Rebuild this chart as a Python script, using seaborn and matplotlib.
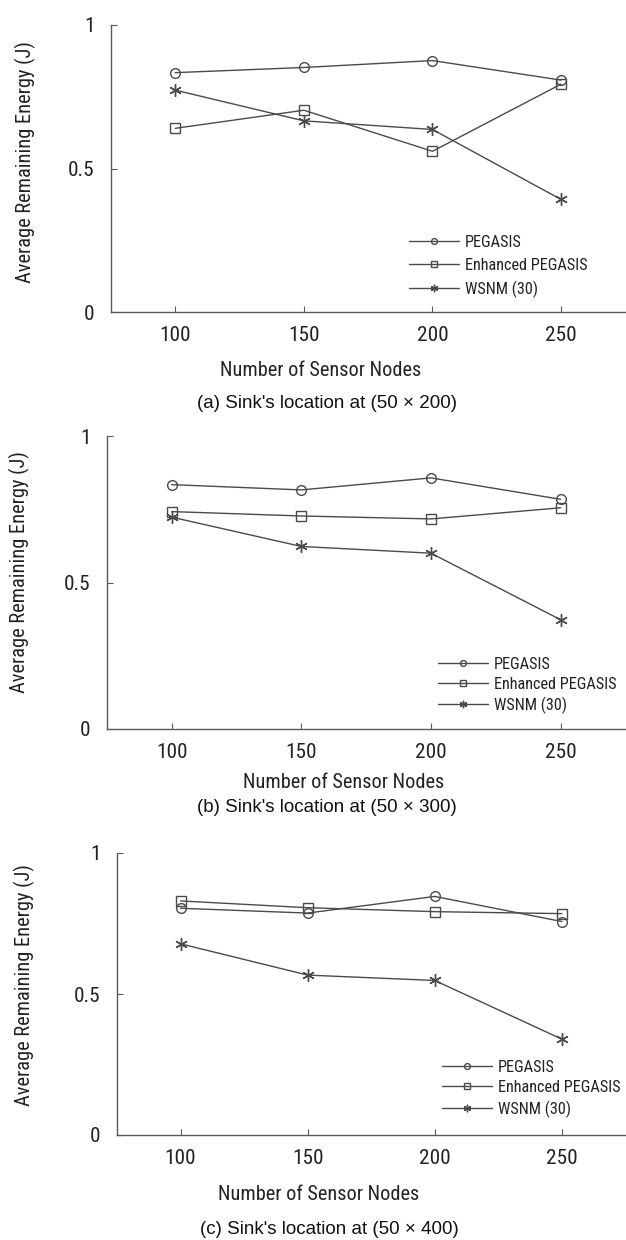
import os

import matplotlib
matplotlib.use("Agg")
import matplotlib.pyplot as plt
from matplotlib import font_manager
import pandas as pd
import seaborn as sns

# x values shared by all three panels
NODES = [100, 150, 200, 250]
SERIES = ["PEGASIS", "Enhanced PEGASIS", "WSNM (30)"]

# (a) sink at (50 x 200)
PEGASIS_A = [0.834, 0.852, 0.876, 0.808]
ENHANCED_A = [0.640, 0.703, 0.560, 0.794]
WSNM_A = [0.773, 0.666, 0.636, 0.392]

# (b) sink at (50 x 300)
PEGASIS_B = [0.834, 0.816, 0.857, 0.784]
ENHANCED_B = [0.742, 0.727, 0.717, 0.755]
WSNM_B = [0.723, 0.623, 0.600, 0.373]

# (c) sink at (50 x 400)
PEGASIS_C = [0.804, 0.787, 0.846, 0.757]
ENHANCED_C = [0.830, 0.806, 0.792, 0.785]
WSNM_C = [0.678, 0.567, 0.548, 0.340]

Y_TICKS = [0, 0.5, 1]
Y_TICK_LABELS = ["0", "0.5", "1"]
X_LABEL = "Number of Sensor Nodes"
Y_LABEL = "Average Remaining Energy (J)"
CAPTIONS = [
    "(a) Sink's location at (50 × 200)",
    "(b) Sink's location at (50 × 300)",
    "(c) Sink's location at (50 × 400)",
]

W, H = 626, 1240
INK = "#4a4a4a"
TXT = "#222222"
MARKERS = {"PEGASIS": "o", "Enhanced PEGASIS": "s", "WSNM (30)": (6, 2, 0)}
MSIZE = {"PEGASIS": 7, "Enhanced PEGASIS": 7, "WSNM (30)": 9}

# pixel layout of each panel, measured on the reference
LAYOUT = [
    dict(left=111, top=25, bottom=312, ylab=(25, 162), xlab=(321, 370),
         cap=(327, 403), leg=(409, 243), pitch=24),
    dict(left=107, top=436, bottom=729, ylab=(19, 572), xlab=(344, 782),
         cap=(327, 808), leg=(438, 665), pitch=21),
    dict(left=117, top=853, bottom=1135, ylab=(24, 985), xlab=(319, 1195),
         cap=(329, 1230), leg=(442, 1068), pitch=21.5),
]


def fx(px):
    return px / W


def fy(py):
    return 1 - py / H


def narrow_font_file():
    # the chart text is set in a narrow sans; take the closest installed one
    ranks = ["LiberationSansNarrow", "ArialNarrow", "RobotoCondensed",
             "NotoSans-Condensed", "OpenSansCondensed", "OpenSans_Condensed",
             "NotoSans-SemiCondensed", "DejaVuSansCondensed"]
    skip = ("Bold", "Italic", "Light", "Medium", "Black", "Thin", "Semi", "Extra")
    best, best_rank = None, len(ranks)
    for f in font_manager.fontManager.ttflist:
        if f.style != "normal" or f.weight not in (400, "normal", "regular"):
            continue
        stem = os.path.splitext(os.path.basename(f.fname).replace(" ", ""))[0]
        for i, key in enumerate(ranks):
            if stem.startswith(key) and i < best_rank:
                rest = stem[len(key):]
                if not any(word in rest for word in skip):
                    best, best_rank = f.fname, i
    return best


sns.set_theme(style="ticks")
plt.rcParams["font.family"] = ["Liberation Sans", "DejaVu Sans"]

fig = plt.figure(figsize=(W / 100, H / 100), dpi=100)
fig.patch.set_facecolor("white")
renderer = fig.canvas.get_renderer()

NARROW = narrow_font_file()


def chart_font(size):
    if NARROW:
        return font_manager.FontProperties(fname=NARROW, size=size)
    return font_manager.FontProperties(family="Liberation Sans", size=size)


def fitted(text, width_px, max_size):
    # largest size not above max_size whose rendered width is at most width_px
    w, _, _ = renderer.get_text_width_height_descent(text, chart_font(10), ismath=False)
    return min(max_size, 10 * width_px / w)


TICK_SIZE = fitted("100", 31, 15.5)
XLAB_SIZE = fitted(X_LABEL, 200, 15.3)
YLAB_SIZE = fitted(Y_LABEL, 240, 15.2)
LEG_SIZE = fitted("Enhanced PEGASIS", 123, 12)

panels = [
    (PEGASIS_A, ENHANCED_A, WSNM_A),
    (PEGASIS_B, ENHANCED_B, WSNM_B),
    (PEGASIS_C, ENHANCED_C, WSNM_C),
]

for values, lay, caption in zip(panels, LAYOUT, CAPTIONS):
    ax = fig.add_axes([fx(lay["left"]), fy(lay["bottom"]),
                       1 - fx(lay["left"]) - 0.001,
                       (lay["bottom"] - lay["top"]) / H])
    ax.set_facecolor("white")
    for name, vals in zip(SERIES, values):
        df = pd.DataFrame({"nodes": NODES, "energy": vals})
        sns.lineplot(data=df, x="nodes", y="energy", ax=ax, label=name,
                     color=INK, linewidth=1.0, marker=MARKERS[name],
                     markersize=MSIZE[name], markerfacecolor="none",
                     markeredgecolor=INK, markeredgewidth=1.0)
    ax.set_xlim(75, 275)
    ax.set_ylim(0, 1)
    ax.set_xticks(NODES)
    ax.set_yticks(Y_TICKS, Y_TICK_LABELS)
    ax.set_xlabel("")
    ax.set_ylabel("")
    for side in ("top", "right"):
        ax.spines[side].set_visible(False)
    for side in ("left", "bottom"):
        ax.spines[side].set_color("#5a5a5a")
        ax.spines[side].set_linewidth(1.0)
    ax.tick_params(axis="x", direction="in", length=4, width=0.8,
                   color="#5a5a5a", pad=10, labelcolor=TXT)
    ax.tick_params(axis="y", direction="in", length=4, width=0.8,
                   color="#5a5a5a", pad=12, labelcolor=TXT)
    for lbl in ax.get_xticklabels() + ax.get_yticklabels():
        lbl.set_fontproperties(chart_font(TICK_SIZE))

    leg_px = LEG_SIZE * 100 / 72
    ax.legend(loc="upper left",
              bbox_to_anchor=(fx(lay["leg"][0]), fy(lay["leg"][1] - 0.5 * leg_px)),
              bbox_transform=fig.transFigure, frameon=False, borderpad=0,
              borderaxespad=0, handlelength=36 / LEG_SIZE, handletextpad=4.3 / LEG_SIZE,
              labelspacing=max(0.0, lay["pitch"] / leg_px - 1.0),
              prop=chart_font(LEG_SIZE), markerscale=0.6, labelcolor=TXT)

    fig.text(fx(lay["xlab"][0]), fy(lay["xlab"][1]), X_LABEL, ha="center",
             va="center", fontproperties=chart_font(XLAB_SIZE), color=TXT)
    fig.text(fx(lay["ylab"][0]), fy(lay["ylab"][1]), Y_LABEL, ha="center",
             va="center", rotation=90, fontproperties=chart_font(YLAB_SIZE), color=TXT)
    fig.text(fx(lay["cap"][0]), fy(lay["cap"][1]), caption, ha="center",
             va="center", fontsize=13.5, color="#111111",
             family=["Liberation Sans", "DejaVu Sans"])

fig.savefig("out.png", dpi=100, facecolor="white")
